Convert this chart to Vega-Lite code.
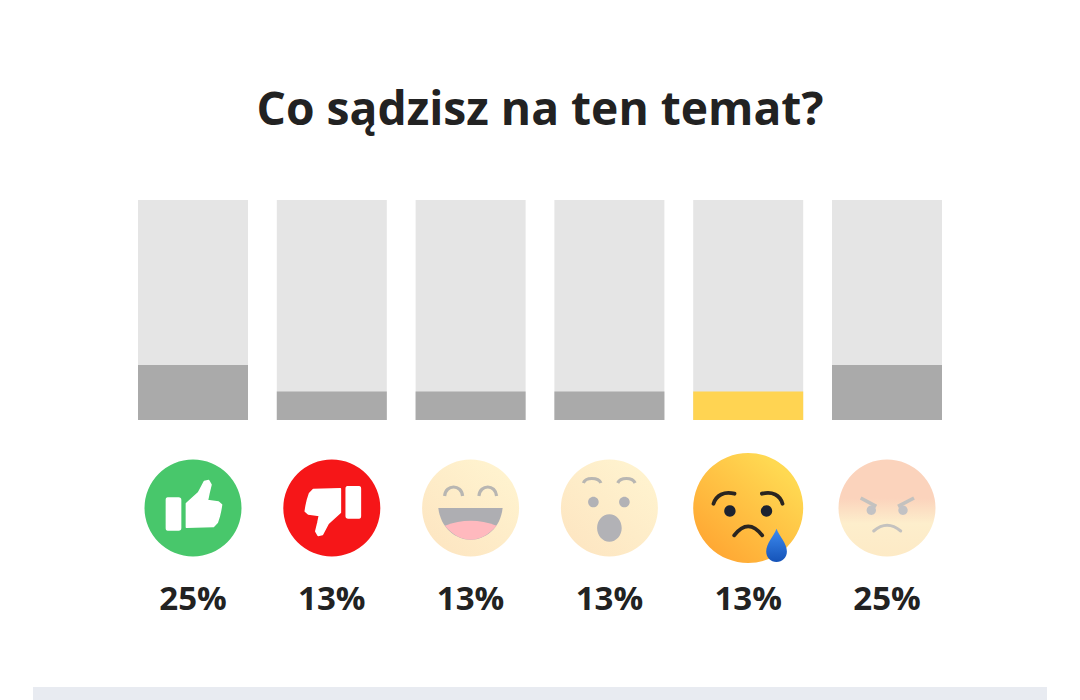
{
  "$schema": "https://vega.github.io/schema/vega-lite/v6.json",
  "width": 1080,
  "height": 700,
  "padding": 0,
  "autosize": {"type": "fit", "contains": "padding"},
  "background": "#ffffff",
  "title": {
    "text": "Co sądzisz na ten temat?",
    "font": "Open Sans",
    "fontSize": 46.2,
    "fontWeight": 700,
    "color": "#222222",
    "anchor": "middle",
    "frame": "group",
    "baseline": "alphabetic",
    "offset": -171
  },
  "layer": [
    {
      "data": {
        "values": [
          {"reakcja": "Lubię to", "procent": 0.25},
          {"reakcja": "Nie lubię", "procent": 0.13},
          {"reakcja": "Haha", "procent": 0.13},
          {"reakcja": "Wow", "procent": 0.13},
          {"reakcja": "Smutek", "procent": 0.13},
          {"reakcja": "Złość", "procent": 0.25}
        ]
      },
      "encoding": {
        "x": {
          "field": "reakcja",
          "type": "nominal",
          "scale": {
            "type": "band",
            "domain": ["Lubię to", "Nie lubię", "Haha", "Wow", "Smutek", "Złość"],
            "range": [123.6, 956.4],
            "paddingInner": 0.2075,
            "paddingOuter": 0.10375
          }
        }
      },
      "layer": [
        {
          "mark": {"type": "rect", "color": "#e5e5e5"},
          "encoding": {
            "y": {"datum": 1, "type": "quantitative", "scale": {"domain": [-1.27273, 1.90909], "nice": false, "zero": false}},
            "y2": {"datum": 0}
          }
        },
        {
          "mark": {"type": "bar"},
          "encoding": {
            "y": {"field": "procent", "type": "quantitative", "stack": null},
            "color": {
              "field": "reakcja",
              "type": "nominal",
              "legend": null,
              "scale": {
                "domain": ["Lubię to", "Nie lubię", "Haha", "Wow", "Smutek", "Złość"],
                "range": ["#aaaaaa", "#aaaaaa", "#aaaaaa", "#aaaaaa", "#ffd452", "#aaaaaa"]
              }
            }
          }
        },
        {
          "mark": {"type": "text", "font": "Open Sans", "fontSize": 33, "fontWeight": 700, "color": "#222222", "baseline": "middle"},
          "encoding": {
            "y": {"datum": -0.8181, "type": "quantitative"},
            "text": {"field": "procent", "type": "quantitative", "format": ".0%"}
          }
        },
        {
          "transform": [{"filter": "datum.reakcja === 'Lubię to'"}],
          "encoding": {"y": {"datum": -0.4, "type": "quantitative"}},
          "layer": [
            {"mark": {"type": "point", "shape": "circle", "size": 9409, "filled": true, "opacity": 1, "color": "#48c76b"}},
            {"mark": {"type": "point", "size": 4, "filled": true, "opacity": 1, "color": "#ffffff", "stroke": "#ffffff", "strokeWidth": 1.5, "strokeJoin": "round", "shape": "M-25.3,-10 L-14.4,-10 Q-12.4,-10 -12.4,-8 L-12.4,20 Q-12.4,22 -14.4,22 L-25.3,22 Q-26.6,22 -26.6,20 L-26.6,-8 Q-26.6,-10 -25.3,-10Z M-6.6,-4.5 L5.5,-15.5 L11.3,-26.5 L15.7,-27.5 L18,-23.3 L16,-15 L14.5,-7.6 L25.5,-6 L28.6,-3.3 L27.6,2.7 L26.3,8.3 L24.3,14.5 L20.5,18.6 L-6.6,19.3Z"}}
          ]
        },
        {
          "transform": [{"filter": "datum.reakcja === 'Nie lubię'"}],
          "encoding": {"y": {"datum": -0.4, "type": "quantitative"}},
          "layer": [
            {"mark": {"type": "point", "shape": "circle", "size": 9409, "filled": true, "opacity": 1, "color": "#f61618"}},
            {"mark": {"type": "point", "size": 4, "filled": true, "opacity": 1, "color": "#ffffff", "stroke": "#ffffff", "strokeWidth": 1.5, "strokeJoin": "round", "shape": "M15.7,-21.3 L27.3,-21.3 Q28.6,-21.3 28.6,-19.3 L28.6,8 Q28.6,10 27.3,10 L16.4,10 Q14.4,10 14.4,8 L14.4,-19.3 Q14.4,-21.3 15.7,-21.3Z M8.6,4.5 L-3.5,15.5 L-9.3,26.5 L-13.7,27.5 L-16,23.3 L-14,15 L-12.5,7.6 L-23.5,6 L-26.6,3.3 L-25.6,-2.7 L-24.3,-8.3 L-22.3,-14.5 L-18.5,-18.6 L8.6,-19.3Z"}}
          ]
        },
        {
          "transform": [{"filter": "datum.reakcja === 'Haha'"}],
          "encoding": {"y": {"datum": -0.4, "type": "quantitative"}},
          "layer": [
            {"mark": {"type": "point", "shape": "circle", "size": 9409, "filled": true, "opacity": 1, "color": {"gradient": "linear", "x1": 0.15, "y1": 0.9, "x2": 0.85, "y2": 0.1, "stops": [{"offset": 0, "color": "#fde6c2"}, {"offset": 1, "color": "#fff3cf"}]}}},
            {"mark": {"type": "point", "size": 4, "filled": false, "opacity": 1, "color": "#b8b6b2", "strokeWidth": 3.2, "shape": "M-26,-12 C-25,-24 -9,-24 -8,-12 M8.3,-12 C9.3,-24 25,-24 26,-12"}},
            {"mark": {"type": "point", "size": 4, "filled": true, "opacity": 1, "color": "#aeaeb2", "shape": "M-32.3,0 L32,0 C30,20 15,31.7 0,31.7 C-15,31.7 -30,20 -32.3,0Z"}},
            {"mark": {"type": "point", "size": 4, "filled": true, "opacity": 1, "color": "#ffb9be", "shape": "M-25.7,17.7 Q0,7.7 26,17.7 C18,27 9,31.7 0,31.7 C-9,31.7 -18,27 -25.7,17.7Z"}}
          ]
        },
        {
          "transform": [{"filter": "datum.reakcja === 'Wow'"}],
          "encoding": {"y": {"datum": -0.4, "type": "quantitative"}},
          "layer": [
            {"mark": {"type": "point", "shape": "circle", "size": 9409, "filled": true, "opacity": 1, "color": {"gradient": "linear", "x1": 0.15, "y1": 0.9, "x2": 0.85, "y2": 0.1, "stops": [{"offset": 0, "color": "#fde6c2"}, {"offset": 1, "color": "#fff3cf"}]}}},
            {"mark": {"type": "point", "size": 4, "filled": false, "opacity": 1, "color": "#b8b6b2", "strokeWidth": 3.2, "shape": "M-26,-25 C-24,-31 -11,-31 -8.5,-25 M8.3,-25 C11,-31 23,-31 25.7,-25"}},
            {"mark": {"type": "point", "size": 4, "filled": true, "opacity": 1, "color": "#b2b2b6", "shape": "M-21.3,-6 A5.3,5.3 0 1,1 -10.7,-6 A5.3,5.3 0 1,1 -21.3,-6Z M9.7,-6 A5.3,5.3 0 1,1 20.3,-6 A5.3,5.3 0 1,1 9.7,-6Z M-12.3,20 A12.3,13.7 0 1,1 12.3,20 A12.3,13.7 0 1,1 -12.3,20Z"}}
          ]
        },
        {
          "transform": [{"filter": "datum.reakcja === 'Smutek'"}],
          "encoding": {"y": {"datum": -0.4, "type": "quantitative"}},
          "layer": [
            {"mark": {"type": "point", "shape": "circle", "size": 12100, "filled": true, "opacity": 1, "color": {"gradient": "linear", "x1": 0.15, "y1": 0.9, "x2": 0.8, "y2": 0.15, "stops": [{"offset": 0, "color": "#ffa733"}, {"offset": 1, "color": "#ffd952"}]}}},
            {"mark": {"type": "point", "size": 4, "filled": false, "opacity": 1, "color": "#2a2520", "strokeWidth": 3.8, "strokeCap": "round", "shape": "M-34.7,-4.3 C-32,-13 -24,-17 -13.7,-14.3 M13.7,-14.3 C24,-17 32,-13 34.3,-4.3 M-14,27.3 Q0,9.3 14,27.3"}},
            {"mark": {"type": "point", "size": 4, "filled": true, "opacity": 1, "color": "#1c2230", "shape": "M-24,3 A5.7,5.7 0 1,1 -12.6,3 A5.7,5.7 0 1,1 -24,3Z M12.6,3 A5.7,5.7 0 1,1 24,3 A5.7,5.7 0 1,1 12.6,3Z"}},
            {"mark": {"type": "point", "size": 4, "filled": true, "opacity": 1, "color": {"gradient": "linear", "x1": 0, "y1": 0, "x2": 0, "y2": 1, "stops": [{"offset": 0, "color": "#3d8bf0"}, {"offset": 1, "color": "#1553b8"}]}, "shape": "M28.3,20.7 C31,28 38.7,35 38.7,43.5 C38.7,49.5 34,54 28.3,54 C22.6,54 18,49.5 18,43.5 C18,35 25.6,28 28.3,20.7Z"}}
          ]
        },
        {
          "transform": [{"filter": "datum.reakcja === 'Złość'"}],
          "encoding": {"y": {"datum": -0.4, "type": "quantitative"}},
          "layer": [
            {"mark": {"type": "point", "shape": "circle", "size": 9409, "filled": true, "opacity": 1, "color": {"gradient": "linear", "x1": 0, "y1": 0, "x2": 0, "y2": 1, "stops": [{"offset": 0, "color": "#fbd3bc"}, {"offset": 0.4, "color": "#fbd3bc"}, {"offset": 0.66, "color": "#fdeecc"}, {"offset": 1, "color": "#fdeac6"}]}}},
            {"mark": {"type": "point", "size": 4, "filled": false, "opacity": 1, "color": "#c4c2bf", "strokeWidth": 3.6, "shape": "M-26.3,-10 L-10.7,-1.7 M27,-10 L11,-1.7"}},
            {"mark": {"type": "point", "size": 4, "filled": false, "opacity": 1, "color": "#c4c2bf", "strokeWidth": 3, "strokeCap": "round", "shape": "M-13.3,23 Q0,11.6 13.7,23"}},
            {"mark": {"type": "point", "size": 4, "filled": true, "opacity": 1, "color": "#c2c2c4", "shape": "M-20.4,2.3 A4.7,4.7 0 1,1 -11,2.3 A4.7,4.7 0 1,1 -20.4,2.3Z M11.3,2.3 A4.7,4.7 0 1,1 20.7,2.3 A4.7,4.7 0 1,1 11.3,2.3Z"}}
          ]
        }
      ]
    },
    {
      "data": {"values": [{"element": "pasek"}]},
      "mark": {"type": "rect", "color": "#e8ebf1"},
      "encoding": {
        "x": {"datum": 33, "type": "quantitative", "scale": {"domain": [0, 1080], "nice": false, "zero": false}},
        "x2": {"datum": 1047},
        "y": {"datum": -1.2136, "type": "quantitative"},
        "y2": {"datum": -1.27273}
      }
    }
  ],
  "resolve": {"scale": {"x": "independent"}},
  "config": {
    "view": {"stroke": null},
    "axis": {"disable": true}
  }
}
